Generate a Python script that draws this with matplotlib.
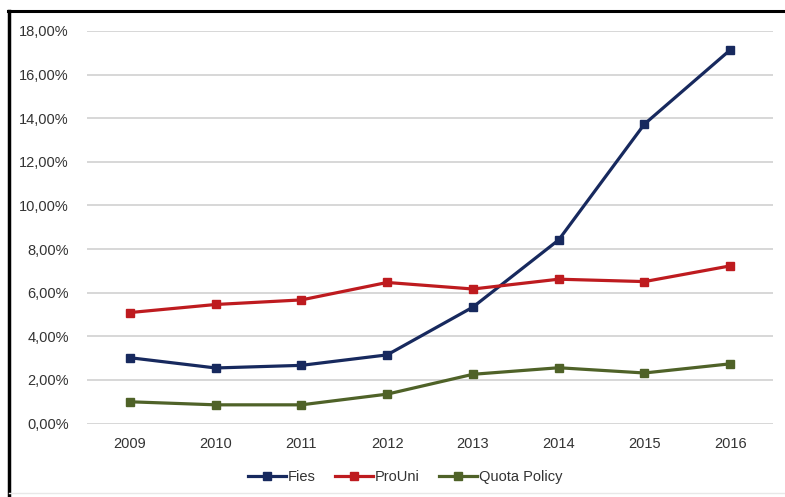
import matplotlib
matplotlib.use("Agg")
import matplotlib.pyplot as plt
from matplotlib.lines import Line2D
from matplotlib.ticker import FuncFormatter, MultipleLocator

plt.rcParams["font.family"] = ["Liberation Sans", "DejaVu Sans"]

years = ["2009", "2010", "2011", "2012", "2013", "2014", "2015", "2016"]
fies = [3.02, 2.55, 2.67, 3.15, 5.34, 8.42, 13.73, 17.13]
prouni = [5.09, 5.46, 5.67, 6.47, 6.17, 6.62, 6.51, 7.23]
quota = [1.00, 0.86, 0.86, 1.35, 2.26, 2.56, 2.32, 2.74]

series = [
    ("Fies", fies, "#17295e"),
    ("ProUni", prouni, "#be1b1f"),
    ("Quota Policy", quota, "#4f6228"),
]

fig = plt.figure(figsize=(7.85, 4.97), dpi=100)
ax = fig.add_axes([0.1108, 0.1477, 0.874, 0.79])

xs = range(len(years))
for name, vals, color in series:
    ax.plot(xs, vals, color=color, linewidth=2.3, marker="s", markersize=6,
            markeredgecolor=color, markerfacecolor=color, label=name, zorder=3)

ax.set_xlim(-0.5, len(years) - 0.5)
ax.set_ylim(0, 18)
ax.set_xticks(list(xs))
ax.set_xticklabels(years)
ax.yaxis.set_major_locator(MultipleLocator(2))
ax.yaxis.set_major_formatter(FuncFormatter(lambda v, _: f"{v:.2f}".replace(".", ",") + "%"))
ax.tick_params(length=0, labelsize=10.5, colors="#333333")
ax.tick_params(axis="x", pad=10)
ax.tick_params(axis="y", pad=13)
ax.grid(axis="y", color="#d4d4d4", linewidth=1.3)
ax.set_axisbelow(True)
for sp in ax.spines.values():
    sp.set_visible(False)

fig.legend(loc="center", bbox_to_anchor=(405 / 785, 1 - 477 / 497), ncol=3,
           frameon=False, fontsize=10.5, handlelength=2.6, handletextpad=0.15,
           columnspacing=1.3, labelcolor="#333333")

# frame around the chart: heavy left and top edges, faint bottom
fig.add_artist(Line2D([9 / 785, 9 / 785], [0, 1 - 11 / 497], color="black",
                      linewidth=2.5, transform=fig.transFigure))
fig.add_artist(Line2D([8 / 785, 1], [1 - 11 / 497, 1 - 11 / 497], color="black",
                      linewidth=2.2, transform=fig.transFigure))
fig.add_artist(Line2D([9 / 785, 1], [1 - 493 / 497, 1 - 493 / 497], color="#e8e8e8",
                      linewidth=1, transform=fig.transFigure))

fig.savefig("out.png", dpi=100)
